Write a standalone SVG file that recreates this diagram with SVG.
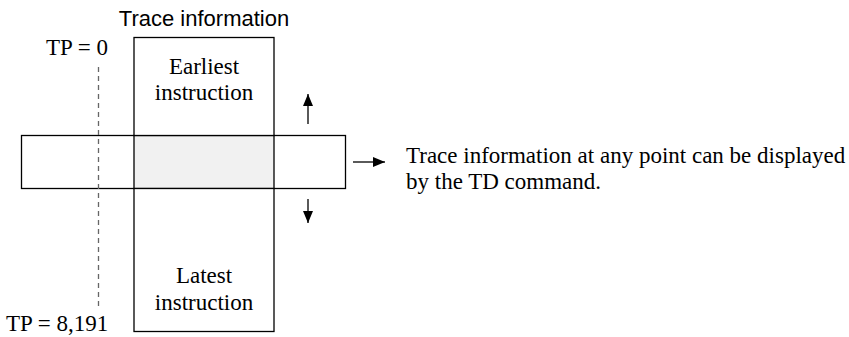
<svg xmlns="http://www.w3.org/2000/svg" width="849" height="337" viewBox="0 0 849 337">
<style>
.box{fill:#fff;stroke:#000;stroke-width:1.3}
.serif{font-family:"Liberation Serif","Times New Roman",serif;font-size:23px;fill:#000}
.sans{font-family:"Liberation Sans",Arial,sans-serif;font-size:22px;fill:#000}
.arr{stroke:#000;stroke-width:1.3;fill:none}
.dash{stroke:#666;stroke-width:1.3;stroke-dasharray:5,4;fill:none}
</style>
<defs>
<marker id="ah" viewBox="0 0 12 10" refX="12" refY="5" markerWidth="12" markerHeight="10" markerUnits="userSpaceOnUse" orient="auto">
<path d="M0,0 L12,5 L0,10 Z" fill="#000"/>
</marker>
</defs>
<g id="band">
<rect class="box" x="21.5" y="135.5" width="324" height="53"/>
</g>
<g id="trace-column">
<rect x="134" y="135.5" width="140" height="53" fill="#f1f1f1" stroke="#000" stroke-width="1.3"/>
<rect class="box" x="134" y="37.5" width="140" height="98"/>
<rect class="box" x="134" y="188.5" width="140" height="143"/>
<text class="serif" x="204" y="74" text-anchor="middle">Earliest</text>
<text class="serif" x="204" y="100" text-anchor="middle">instruction</text>
<text class="serif" x="204" y="283" text-anchor="middle">Latest</text>
<text class="serif" x="204" y="310" text-anchor="middle">instruction</text>
</g>
<g id="title">
<text class="sans" x="204" y="26" text-anchor="middle">Trace information</text>
</g>
<g id="tp-labels">
<text class="serif" x="46" y="55">TP = 0</text>
<text class="serif" x="6" y="331">TP = 8,191</text>
</g>
<g id="note">
<text class="serif" x="406" y="163">Trace information at any point can be displayed</text>
<text class="serif" x="406" y="189">by the TD command.</text>
</g>
<g id="connectors">
<line class="dash" x1="98.5" y1="67" x2="98.5" y2="308"/>
<line class="arr" x1="308" y1="124" x2="308" y2="94" marker-end="url(#ah)"/>
<line class="arr" x1="308" y1="199" x2="308" y2="223" marker-end="url(#ah)"/>
<line class="arr" x1="353" y1="162" x2="385" y2="162" marker-end="url(#ah)"/>
</g>
</svg>
